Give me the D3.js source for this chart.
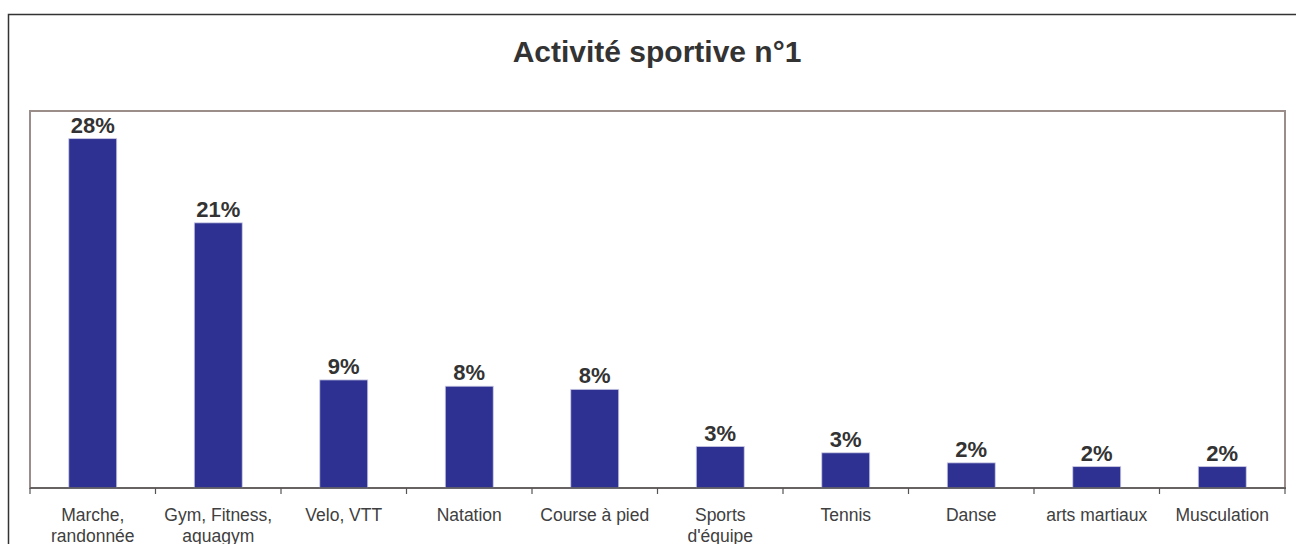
<!DOCTYPE html>
<html>
<head>
<meta charset="utf-8">
<script src="https://cdn.jsdelivr.net/npm/d3@7"></script>
<style>
  body { margin: 0; background: #fff; }
  svg { display: block; font-family: "Liberation Sans", Arial, sans-serif; }
</style>
</head>
<body>
<div id="chart"></div>
<script>
// Data
const categories = [
  'Marche,\nrandonnée', 'Gym, Fitness,\naquagym', 'Velo, VTT', 'Natation', 'Course à pied',
  'Sports\nd\'équipe', 'Tennis', 'Danse', 'arts martiaux', 'Musculation'
];
const values = [27.8, 21.1, 8.6, 8.1, 7.85, 3.3, 2.8, 2.0, 1.7, 1.7];
const yMax = 30;

const width = 1296, height = 544;
const plot = { left: 30, right: 1285, top: 111, bottom: 488 };

const svg = d3.select('#chart').append('svg')
  .attr('width', width)
  .attr('height', height);

// Outer chart frame (cropped by viewport)
svg.append('rect')
  .attr('x', 8.5).attr('y', 14.5)
  .attr('width', 1400).attr('height', 700)
  .attr('fill', '#fff')
  .attr('stroke', '#333').attr('stroke-width', 1.5);

svg.append('text')
  .attr('x', 657).attr('y', 62)
  .attr('text-anchor', 'middle')
  .attr('font-size', 30).attr('font-weight', 'bold')
  .attr('fill', '#333')
  .text('Activité sportive n°1');

// Scales
const x = d3.scaleBand()
  .domain(categories)
  .range([plot.left, plot.right])
  .padding(0);

const y = d3.scaleLinear()
  .domain([0, yMax])
  .range([plot.bottom, plot.top]);

const barW = x.bandwidth() * 0.382;

// Plot area frame
svg.append('rect')
  .attr('x', plot.left).attr('y', plot.top)
  .attr('width', plot.right - plot.left).attr('height', plot.bottom - plot.top)
  .attr('fill', 'none')
  .attr('stroke', '#9b8e8a').attr('stroke-width', 2);

// Bars
svg.append('g').selectAll('rect')
  .data(values)
  .join('rect')
  .attr('x', (d, i) => x(categories[i]) + (x.bandwidth() - barW) / 2)
  .attr('y', d => y(d))
  .attr('width', barW)
  .attr('height', d => y(0) - y(d))
  .attr('fill', '#2e3192')
  .attr('stroke', '#c9c9e3').attr('stroke-width', 0.8);

// Value labels
svg.append('g').selectAll('text')
  .data(values)
  .join('text')
  .attr('x', (d, i) => x(categories[i]) + x.bandwidth() / 2)
  .attr('y', d => y(d) - 6)
  .attr('text-anchor', 'middle')
  .attr('font-size', 22).attr('font-weight', 'bold')
  .attr('fill', '#333')
  .text(d => Math.round(d) + '%');

// X axis with ticks at category boundaries
const axis = svg.append('g');
axis.append('line')
  .attr('x1', plot.left).attr('x2', plot.right + 1)
  .attr('y1', plot.bottom).attr('y2', plot.bottom)
  .attr('stroke', '#555').attr('stroke-width', 1.5);

const bounds = categories.map(c => x(c)).concat([plot.right]);
axis.selectAll('.tick')
  .data(bounds)
  .join('line')
  .attr('class', 'tick')
  .attr('x1', d => d).attr('x2', d => d)
  .attr('y1', plot.bottom).attr('y2', plot.bottom + 6)
  .attr('stroke', '#555').attr('stroke-width', 1.2);

axis.selectAll('.cat')
  .data(categories)
  .join('text')
  .attr('class', 'cat')
  .attr('x', d => x(d) + x.bandwidth() / 2)
  .attr('y', 521)
  .attr('text-anchor', 'middle')
  .attr('font-size', 17.5)
  .attr('fill', '#404040')
  .each(function(d) {
    const lines = d.split('\n');
    d3.select(this).selectAll('tspan')
      .data(lines)
      .join('tspan')
      .attr('x', x(d) + x.bandwidth() / 2)
      .attr('dy', (l, i) => i === 0 ? 0 : 21)
      .text(l => l);
  });
</script>
</body>
</html>
